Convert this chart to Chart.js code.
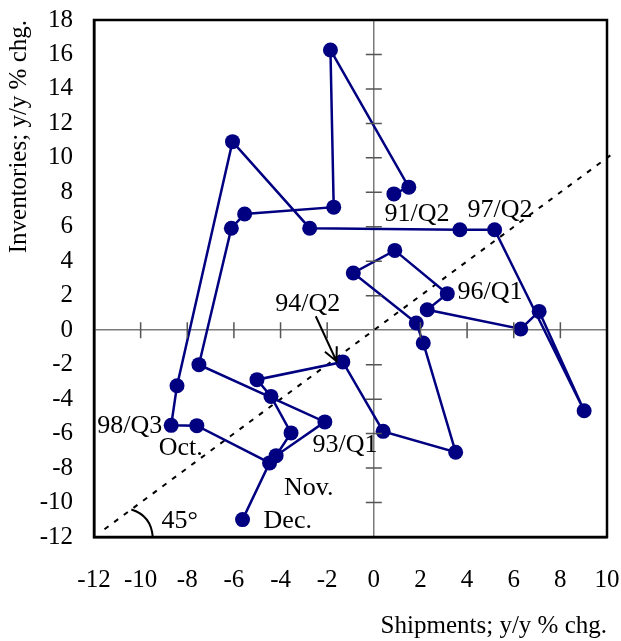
<!DOCTYPE html>
<html>
<head>
<meta charset="utf-8">
<script src="https://cdn.jsdelivr.net/npm/chart.js@4.4.1/dist/chart.umd.min.js"></script>
<style>
  html, body { margin: 0; padding: 0; background: #ffffff; }
  #wrap { width: 621px; height: 641px; position: relative; }
</style>
</head>
<body>
<div id="wrap"><canvas id="c" width="621" height="641"></canvas></div>
<script>
// ---- data ----
const periods = ['91/Q2','91/Q3','91/Q4','92/Q1','92/Q2','92/Q3','92/Q4','93/Q1','93/Q2','93/Q3',
  '93/Q4','94/Q1','94/Q2','94/Q3','94/Q4','95/Q1','95/Q2','95/Q3','95/Q4','96/Q1',
  '96/Q2','96/Q3','96/Q4','97/Q1','97/Q2','97/Q3','97/Q4','98/Q1','98/Q2','98/Q3',
  'Oct.','Nov.','Dec.'];
const shipments = [0.86, 1.50, -1.86, -1.72, -5.54, -6.11, -7.50, -2.10, -4.19, -3.55,
  -4.41, -5.01, -1.33, 0.40, 3.51, 2.12, 1.82, -0.88, 0.90, 3.15,
  2.29, 6.30, 7.09, 9.02, 5.18, 3.69, -2.75, -6.06, -8.44, -8.69,
  -7.59, -4.47, -5.63];
const inventories = [7.91, 8.30, 16.26, 7.14, 6.74, 5.92, -2.00, -5.32, -7.28, -5.96,
  -3.84, -2.87, -1.84, -5.87, -7.08, -0.74, 0.42, 3.32, 4.63, 2.12,
  1.19, 0.07, 1.09, -4.67, 5.83, 5.83, 5.92, 10.94, -3.22, -5.52,
  -5.54, -7.70, -10.99];
const xTicks = [-12, -10, -8, -6, -4, -2, 0, 2, 4, 6, 8, 10];
const yTicks = [-12, -10, -8, -6, -4, -2, 0, 2, 4, 6, 8, 10, 12, 14, 16, 18];
const diagonal = [-11.55, 10.3];           // 45-degree reference line, x = y
const noteText = ['91/Q2', '97/Q2', '96/Q1', '94/Q2', '93/Q1', '98/Q3', 'Oct.', 'Nov.', 'Dec.', '45°'];
const noteX    = [1.85, 5.41, 4.98, -2.83, -1.24, -10.47, -8.28, -2.79, -3.69, -8.33];
const noteY    = [6.73, 6.96, 2.20, 1.50, -6.67, -5.57, -6.85, -9.17, -11.09, -11.09];

const FONT = '"Liberation Serif", "Times New Roman", serif';
const NAVY = '#000080';

const points = shipments.map((x, i) => ({ x: x, y: inventories[i] }));
const diagPts = diagonal.map(v => ({ x: v, y: v }));

const extras = {
  id: 'extras',
  afterDraw(chart) {
    const ctx = chart.ctx;
    const xs = chart.scales.x, ys = chart.scales.y;
    const a = chart.chartArea;
    const X = v => xs.getPixelForValue(v), Y = v => ys.getPixelForValue(v);
    ctx.save();
    // cross ticks on the zero lines
    ctx.strokeStyle = '#555555';
    ctx.lineWidth = 1.5;
    ctx.beginPath();
    yTicks.forEach(v => {
      if (v === 0 || v === ys.min || v === ys.max) return;
      ctx.moveTo(X(0) - 8, Y(v)); ctx.lineTo(X(0) + 8, Y(v));
    });
    xTicks.forEach(v => {
      if (v === 0 || v === xs.min || v === xs.max) return;
      ctx.moveTo(X(v), Y(0) - 8); ctx.lineTo(X(v), Y(0) + 8);
    });
    ctx.stroke();
    // frame
    ctx.strokeStyle = '#000000';
    ctx.lineWidth = 2.5;
    ctx.strokeRect(a.left, a.top, a.right - a.left, a.bottom - a.top);
    // 45 degree arc
    ctx.lineWidth = 2;
    ctx.beginPath();
    ctx.moveTo(X(-10.4), Y(-10.4));
    ctx.quadraticCurveTo(X(-9.55), Y(-10.75), X(-9.48), Y(-12));
    ctx.stroke();
    // arrow to 94/Q2
    const x1 = X(-2.49), y1 = Y(0.81), x2 = X(-1.6), y2 = Y(-1.8);
    ctx.lineWidth = 2;
    ctx.beginPath();
    ctx.moveTo(x1, y1); ctx.lineTo(x2, y2);
    const ang = Math.atan2(y2 - y1, x2 - x1), hl = 15, hw = 0.45;
    ctx.moveTo(x2 - hl * Math.cos(ang - hw), y2 - hl * Math.sin(ang - hw));
    ctx.lineTo(x2, y2);
    ctx.lineTo(x2 - hl * Math.cos(ang + hw), y2 - hl * Math.sin(ang + hw));
    ctx.stroke();
    // text notes
    ctx.fillStyle = '#000000';
    ctx.font = '26px ' + FONT;
    ctx.textAlign = 'center';
    ctx.textBaseline = 'middle';
    noteText.forEach((t, i) => ctx.fillText(t, X(noteX[i]), Y(noteY[i])));
    ctx.restore();
  }
};

new Chart(document.getElementById('c'), {
  type: 'scatter',
  data: {
    datasets: [
      {
        label: 'Shipments vs inventories',
        data: points,
        showLine: true,
        borderColor: NAVY,
        backgroundColor: NAVY,
        borderWidth: 2.5,
        pointRadius: 7.5,
        pointHoverRadius: 7.5,
        pointBorderWidth: 0,
        tension: 0
      },
      {
        label: '45 degree line',
        data: diagPts,
        showLine: true,
        borderColor: '#000000',
        borderWidth: 2,
        borderDash: [5, 7],
        pointRadius: 0,
        clip: false
      }
    ]
  },
  options: {
    responsive: false,
    animation: false,
    devicePixelRatio: 1,
    layout: { padding: { top: 20, right: 14, left: 0, bottom: 0 } },
    plugins: { legend: { display: false }, tooltip: { enabled: false } },
    scales: {
      x: {
        type: 'linear', min: -12, max: 10,
        afterBuildTicks: s => { s.ticks = xTicks.map(v => ({ value: v })); },
        afterFit: s => { s.height = 104; s.paddingLeft = 0; s.paddingRight = 0; },
        grid: {
          drawTicks: false,
          color: c => (c.tick && c.tick.value === 0) ? '#7a7a7a' : 'rgba(0,0,0,0)',
          lineWidth: 1.5
        },
        border: { display: true, color: '#000000', width: 2.5 },
        ticks: { color: '#000000', font: { family: FONT, size: 25 }, padding: 28, maxRotation: 0, autoSkip: false },
        title: { display: true, text: 'Shipments; y/y % chg.', align: 'end', color: '#000000',
                 font: { family: FONT, size: 25 }, padding: { top: 0, bottom: 0 } }
      },
      y: {
        type: 'linear', min: -12, max: 18,
        afterBuildTicks: s => { s.ticks = yTicks.map(v => ({ value: v })); },
        afterFit: s => { s.width = 94; s.paddingTop = 0; s.paddingBottom = 0; },
        grid: {
          drawTicks: false,
          color: c => (c.tick && c.tick.value === 0) ? '#7a7a7a' : 'rgba(0,0,0,0)',
          lineWidth: 1.5
        },
        border: { display: true, color: '#000000', width: 2.5 },
        ticks: { color: '#000000', font: { family: FONT, size: 25 }, padding: 21, autoSkip: false },
        title: { display: true, text: 'Inventories; y/y % chg.', align: 'end', color: '#000000',
                 font: { family: FONT, size: 25 }, padding: { top: 4, bottom: 0 } }
      }
    }
  },
  plugins: [extras]
});
</script>
</body>
</html>
